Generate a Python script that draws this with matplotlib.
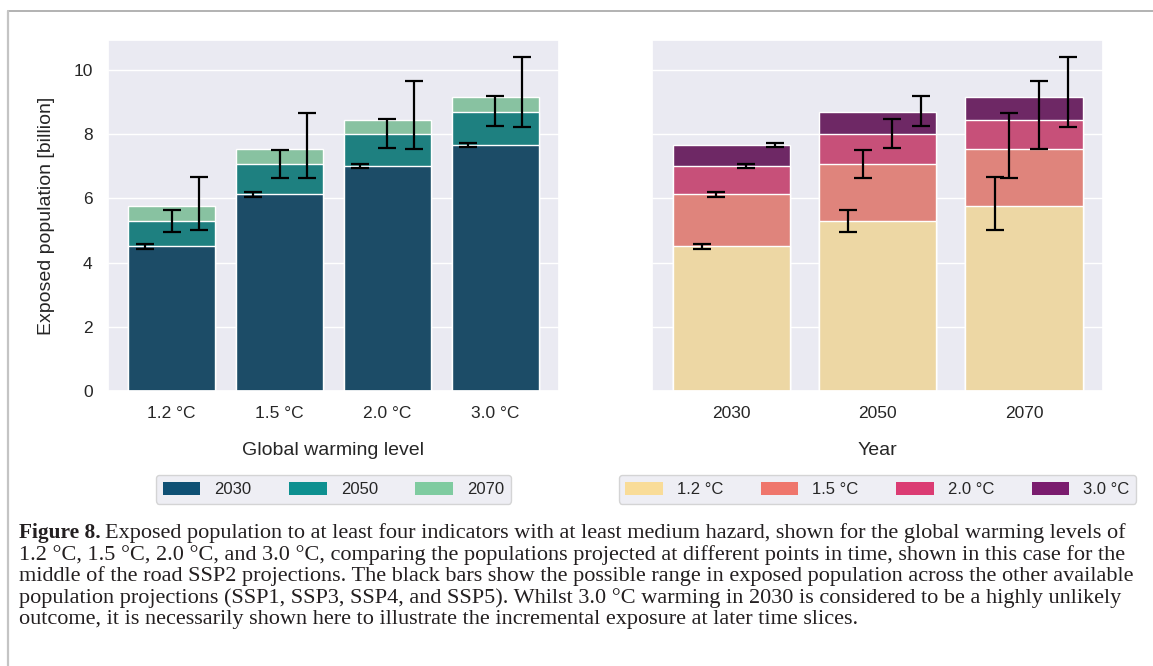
'''
Exposed population to at least four indicators (Figure 8 recreation).
'''
import numpy as np
import matplotlib
matplotlib.use('Agg')
import matplotlib.pyplot as plt
from matplotlib.patches import Patch
from matplotlib.lines import Line2D
import seaborn as sns

# categories
levels = ['1.2 °C', '1.5 °C', '2.0 °C', '3.0 °C']
years = ['2030', '2050', '2070']

# SSP2 exposed population [billion], one list per year, values per warming level
pop_2030 = [4.51, 6.14, 7.02, 7.66]
pop_2050 = [5.30, 7.07, 7.99, 8.68]
pop_2070 = [5.75, 7.54, 8.45, 9.14]

# range across the other SSPs (low / high)
low_2030 = [4.43, 6.05, 6.95, 7.59]
high_2030 = [4.58, 6.19, 7.08, 7.73]
low_2050 = [4.95, 6.64, 7.57, 8.25]
high_2050 = [5.65, 7.50, 8.47, 9.18]
low_2070 = [5.00, 6.64, 7.54, 8.23]
high_2070 = [6.65, 8.65, 9.65, 10.41]

# colours
year_colors = ['#0f5074', '#0e9090', '#7fcba0']
level_colors = ['#f9dc98', '#ef766c', '#db3c73', '#7a1c6e']

caption_lines = [
    'Exposed population to at least four indicators with at least medium hazard, shown for the global warming levels of',
    '1.2 °C, 1.5 °C, 2.0 °C, and 3.0 °C, comparing the populations projected at different points in time, shown in this case for the',
    'middle of the road SSP2 projections. The black bars show the possible range in exposed population across the other available',
    'population projections (SSP1, SSP3, SSP4, and SSP5). Whilst 3.0 °C warming in 2030 is considered to be a highly unlikely',
    'outcome, it is necessarily shown here to illustrate the incremental exposure at later time slices.',
]

sns.set_theme(style='darkgrid')
plt.rcParams['font.family'] = ['Liberation Sans', 'DejaVu Sans']

pops = np.array([pop_2030, pop_2050, pop_2070])
lows = np.array([low_2030, low_2050, low_2070])
highs = np.array([high_2030, high_2050, high_2070])

W, H = 1153, 666
fig = plt.figure(figsize=(W / 100, H / 100), dpi=100)
fig.patch.set_facecolor('white')


def px_axes(x0, y0, x1, y1, **kw):
    # axes from pixel box (top-left origin)
    return fig.add_axes([x0 / W, 1 - y1 / H, (x1 - x0) / W, (y1 - y0) / H], **kw)


ax1 = px_axes(108, 40, 559, 391)
ax2 = px_axes(652, 40, 1103, 391, sharey=ax1)

err_kw = dict(fmt='none', ecolor='black', elinewidth=1.6, capsize=6.8, capthick=1.6)

# left: stacked by year for each warming level
x1 = np.arange(len(levels))
year_offsets = [-0.25, 0.0, 0.25]
for j in reversed(range(len(years))):
    ax1.bar(x1, pops[j], width=0.8, color=sns.desaturate(year_colors[j], 0.75),
            edgecolor='white', linewidth=1)
for j in range(len(years)):
    mid = (lows[j] + highs[j]) / 2
    ax1.errorbar(x1 + year_offsets[j], mid, yerr=(highs[j] - lows[j]) / 2, **err_kw)

# right: stacked by warming level for each year
x2 = np.arange(len(years))
level_offsets = [-0.2, -0.1, 0.1, 0.3]
for i in reversed(range(len(levels))):
    ax2.bar(x2, pops[:, i], width=0.8, color=sns.desaturate(level_colors[i], 0.75),
            edgecolor='white', linewidth=1)
for i in range(len(levels)):
    mid = (lows[:, i] + highs[:, i]) / 2
    ax2.errorbar(x2 + level_offsets[i], mid, yerr=(highs[:, i] - lows[:, i]) / 2, **err_kw)

ax1.set_xticks(x1, levels)
ax2.set_xticks(x2, years)
for ax in (ax1, ax2):
    ax.xaxis.grid(False)
    ax.tick_params(axis='both', labelsize=12.5, pad=5, colors='#262626')
ax2.tick_params(axis='y', labelleft=False)
ax1.set_yticks([0, 2, 4, 6, 8, 10])

ax1.set_ylabel('Exposed population [billion]', fontsize=14, labelpad=13, color='#262626')
ax1.set_xlabel('Global warming level', fontsize=14, labelpad=15, color='#262626')
ax2.set_xlabel('Year', fontsize=14, labelpad=15, color='#262626')

leg_kw = dict(loc='upper center', borderaxespad=0, fontsize=12, handlelength=2.26,
              handleheight=0.85, handletextpad=0.84, columnspacing=2.25,
              borderpad=0.4, frameon=True)
h1 = [Patch(facecolor=c, edgecolor='none') for c in year_colors]
ax1.legend(h1, years, ncol=3, bbox_to_anchor=(0.5, -0.239), **leg_kw)
h2 = [Patch(facecolor=c, edgecolor='none') for c in level_colors]
ax2.legend(h2, levels, ncol=4, bbox_to_anchor=(0.5, -0.239), **leg_kw)

# page frame lines
fig.add_artist(Line2D([8 / W, 1], [1 - 11 / H, 1 - 11 / H], transform=fig.transFigure,
                      color='#a6a6a6', linewidth=1.2))
fig.add_artist(Line2D([8 / W, 8 / W], [0, 1 - 11 / H], transform=fig.transFigure,
                      color='#c4c4c4', linewidth=1.6))

# caption
cap_font = ['Liberation Serif', 'DejaVu Serif']
cap_size = 16.0
x0 = 19 / W
base = 538
for k, line in enumerate(caption_lines):
    y = 1 - (base + k * 21.6) / H
    if k == 0:
        t = fig.text(x0, y, 'Figure 8.', fontsize=cap_size - 0.6, family=cap_font,
                     weight='bold', va='baseline', color='#231f20')
        fig.canvas.draw()
        bb = t.get_window_extent()
        fig.text(bb.x1 / W + 4 / W, y, line, fontsize=cap_size, family=cap_font,
                 va='baseline', color='#231f20')
    else:
        fig.text(x0, y, line, fontsize=cap_size, family=cap_font,
                 va='baseline', color='#231f20')

plt.savefig('out.png', dpi=100)
